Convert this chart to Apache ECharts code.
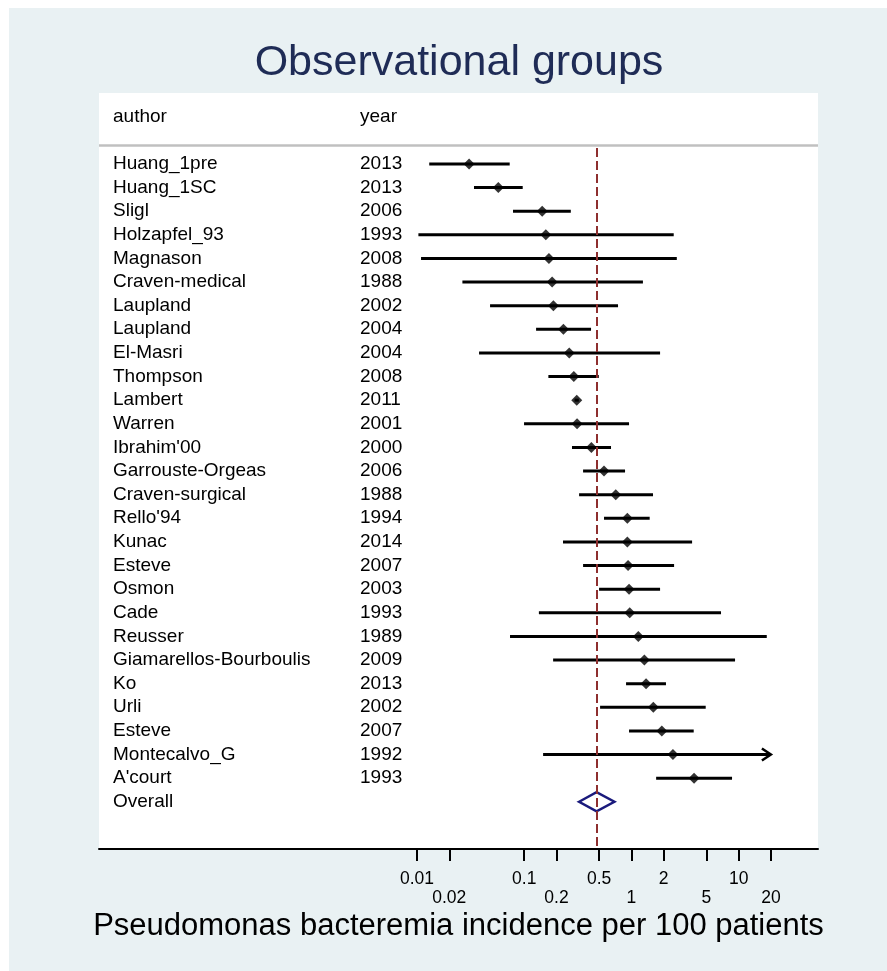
<!DOCTYPE html>
<html>
<head>
<meta charset="utf-8">
<script src="https://cdn.jsdelivr.net/npm/echarts@6/dist/echarts.min.js"></script>
<style>
  html, body { margin: 0; padding: 0; background: #ffffff; }
  #chart { position: absolute; left: 9px; top: 8px; width: 878px; height: 963px; }
</style>
</head>
<body>
<div id="chart"></div>
<script>
// Study list: author, year, incidence per 100 patients with 95% CI
const authors = [
  'Huang_1pre', 'Huang_1SC', 'Sligl', 'Holzapfel_93', 'Magnason', 'Craven-medical',
  'Laupland', 'Laupland', 'El-Masri', 'Thompson', 'Lambert', 'Warren', "Ibrahim'00",
  'Garrouste-Orgeas', 'Craven-surgical', "Rello'94", 'Kunac', 'Esteve', 'Osmon', 'Cade',
  'Reusser', 'Giamarellos-Bourboulis', 'Ko', 'Urli', 'Esteve', 'Montecalvo_G', "A'court"
];
const years = [
  '2013', '2013', '2006', '1993', '2008', '1988', '2002', '2004', '2004', '2008', '2011',
  '2001', '2000', '2006', '1988', '1994', '2014', '2007', '2003', '1993', '1989', '2009',
  '2013', '2002', '2007', '1992', '1993'
];
const estimates = [
  0.0306, 0.0573, 0.147, 0.159, 0.170, 0.182, 0.187, 0.232, 0.263, 0.290, 0.309,
  0.311, 0.423, 0.555, 0.714, 0.916, 0.916, 0.930, 0.950, 0.964, 1.16, 1.32,
  1.37, 1.60, 1.92, 2.44, 3.84
];
const lowerCI = [
  0.0130, 0.0340, 0.0786, 0.0103, 0.0109, 0.0265, 0.0480, 0.129, 0.0379, 0.168, 0.295,
  0.0996, 0.279, 0.354, 0.325, 0.555, 0.230, 0.354, 0.499, 0.137, 0.0737, 0.186,
  0.891, 0.510, 0.950, 0.150, 1.70
];
const upperCI = [
  0.0732, 0.0968, 0.272, 2.48, 2.65, 1.28, 0.750, 0.420, 1.85, 0.496, 0.323,
  0.950, 0.645, 0.872, 1.59, 1.48, 3.68, 2.50, 1.85, 6.85, 18.3, 9.26,
  2.10, 4.93, 3.81, 30.0, 8.68
];

// Pooled estimate
const overallLabel = 'Overall';
const overallEstimate = 0.473;
const overallLower = 0.325;
const overallUpper = 0.693;

// Axis ticks: labels alternate between two rows
const tickValues = [0.01, 0.02, 0.1, 0.2, 0.5, 1, 2, 5, 10, 20];
const upperTickValues = [0.01, 0.1, 0.5, 2, 10];
const upperTickLabels = ['0.01', '0.1', '0.5', '2', '10'];
const lowerTickValues = [0.02, 0.2, 1, 5, 20];
const lowerTickLabels = ['0.02', '0.2', '1', '5', '20'];
const headerLabels = ['author', 'year'];

const titleText = 'Observational groups';
const axisTitle = 'Pseudomonas bacteremia incidence per 100 patients';

const FONT = '"Liberation Sans", Arial, Helvetica, sans-serif';
const CLIP_MAX = tickValues[tickValues.length - 1];
const HEADER_ROW = -2;
const SEPARATOR_ROW = -0.77;
const overallRow = authors.length;
const AXIS_MIN = 1.08e-5;
const AXIS_MAX = 55;

const labelNames = authors.concat([overallLabel]);
const labelYears = years.concat(['']);

const chart = echarts.init(document.getElementById('chart'));

function labelFor(values, labels) {
  return function (v) {
    let best = 0;
    for (let i = 1; i < values.length; i++) {
      if (Math.abs(Math.log10(values[i]) - Math.log10(v)) <
          Math.abs(Math.log10(values[best]) - Math.log10(v))) best = i;
    }
    return labels[best];
  };
}

function rowText(x, y, text) {
  return {
    type: 'text', x: x, y: y,
    style: {
      text: text, fill: '#000000', fontSize: 19, fontFamily: FONT,
      align: 'left', verticalAlign: 'middle'
    }
  };
}

const baseXAxis = {
  type: 'log',
  logBase: 10,
  min: AXIS_MIN,
  max: AXIS_MAX,
  position: 'bottom',
  splitLine: { show: false }
};

const option = {
  backgroundColor: '#e9f1f3',
  animation: false,
  title: {
    text: titleText,
    left: 445,
    top: 29,
    textAlign: 'center',
    textStyle: { color: '#1f2c56', fontSize: 43, fontWeight: 'normal', fontFamily: FONT }
  },
  grid: {
    left: 90, right: 69, top: 85, bottom: 122,
    show: true, backgroundColor: '#ffffff', borderWidth: 0
  },
  xAxis: [
    Object.assign({}, baseXAxis, {
      axisLine: { show: true, onZero: false, lineStyle: { color: '#000000', width: 2 } },
      axisTick: {
        show: true, length: 12, customValues: tickValues,
        lineStyle: { color: '#000000', width: 2 }
      },
      axisLabel: {
        customValues: upperTickValues,
        showMinLabel: true,
        showMaxLabel: true,
        margin: 21,
        color: '#000000',
        fontSize: 17.5,
        fontFamily: FONT,
        formatter: labelFor(upperTickValues, upperTickLabels)
      },
      name: axisTitle,
      nameLocation: 'middle',
      nameGap: 62,
      nameTextStyle: { color: '#000000', fontSize: 31, fontFamily: FONT }
    }),
    Object.assign({}, baseXAxis, {
      axisLine: { show: false, onZero: false },
      axisTick: { show: false },
      axisLabel: {
        customValues: lowerTickValues,
        showMinLabel: true,
        showMaxLabel: true,
        margin: 40,
        color: '#000000',
        fontSize: 17.5,
        fontFamily: FONT,
        formatter: labelFor(lowerTickValues, lowerTickLabels)
      }
    })
  ],
  yAxis: {
    type: 'value',
    min: -3,
    max: 29,
    inverse: true,
    show: false
  },
  series: [
    {
      // header row and separator
      type: 'custom',
      name: 'header',
      data: [[1, HEADER_ROW]],
      encode: { x: 0, y: 1 },
      renderItem: function (params, api) {
        const y = api.coord([1, api.value(1)])[1];
        const x0 = params.coordSys.x;
        return {
          type: 'group',
          children: [rowText(x0 + 14, y, headerLabels[0]), rowText(x0 + 261, y, headerLabels[1])]
        };
      },
      markLine: {
        silent: true,
        symbol: ['none', 'none'],
        label: { show: false },
        lineStyle: { color: '#c0c0c0', width: 2.5, type: 'solid' },
        data: [{ yAxis: SEPARATOR_ROW }]
      }
    },
    {
      // author / year columns
      type: 'custom',
      name: 'labels',
      data: labelNames.map(function (_, i) { return [1, i]; }),
      encode: { x: 0, y: 1 },
      renderItem: function (params, api) {
        const y = api.coord([1, api.value(1)])[1];
        const x0 = params.coordSys.x;
        const i = params.dataIndex;
        return {
          type: 'group',
          children: [rowText(x0 + 14, y, labelNames[i]), rowText(x0 + 261, y, labelYears[i])]
        };
      }
    },
    {
      // confidence interval whiskers
      type: 'custom',
      name: 'ci',
      data: authors.map(function (_, i) { return [lowerCI[i], upperCI[i], i]; }),
      encode: { x: [0, 1], y: 2 },
      renderItem: function (params, api) {
        const row = api.value(2);
        const lo = api.value(0);
        const hi = api.value(1);
        const clipped = hi > CLIP_MAX;
        const p1 = api.coord([lo, row]);
        const p2 = api.coord([Math.min(hi, CLIP_MAX), row]);
        const children = [{
          type: 'line',
          shape: { x1: p1[0], y1: p1[1], x2: p2[0], y2: p2[1] },
          style: { stroke: '#000000', lineWidth: 3 }
        }];
        if (clipped) {
          children.push({
            type: 'polyline',
            shape: { points: [[p2[0] - 9, p2[1] - 6], [p2[0], p2[1]], [p2[0] - 9, p2[1] + 6]] },
            style: { stroke: '#000000', fill: null, lineWidth: 2.5 }
          });
        }
        return { type: 'group', children: children };
      }
    },
    {
      // point estimates
      type: 'scatter',
      name: 'estimate',
      symbol: 'diamond',
      symbolSize: 11,
      itemStyle: { color: '#000000' },
      data: estimates.map(function (v, i) { return [v, i]; }),
      markLine: {
        silent: true,
        symbol: ['none', 'none'],
        label: { show: false },
        lineStyle: { color: '#8e2f2f', width: 2, type: [9, 4] },
        data: [[{ coord: [overallEstimate, SEPARATOR_ROW + 0.1] }, { coord: [overallEstimate, 29] }]]
      }
    },
    {
      // pooled diamond
      type: 'custom',
      name: 'overall',
      data: [[overallLower, overallUpper, overallRow, overallEstimate]],
      encode: { x: [0, 1, 3], y: 2 },
      renderItem: function (params, api) {
        const row = api.value(2);
        const l = api.coord([api.value(0), row]);
        const r = api.coord([api.value(1), row]);
        const c = api.coord([api.value(3), row]);
        const h = 9.5;
        return {
          type: 'polygon',
          shape: { points: [[l[0], l[1]], [c[0], c[1] - h], [r[0], r[1]], [c[0], c[1] + h]] },
          style: { stroke: '#1a1a7c', fill: 'rgba(255,255,255,0)', lineWidth: 2.5 }
        };
      }
    }
  ]
};

chart.setOption(option);
</script>
</body>
</html>
